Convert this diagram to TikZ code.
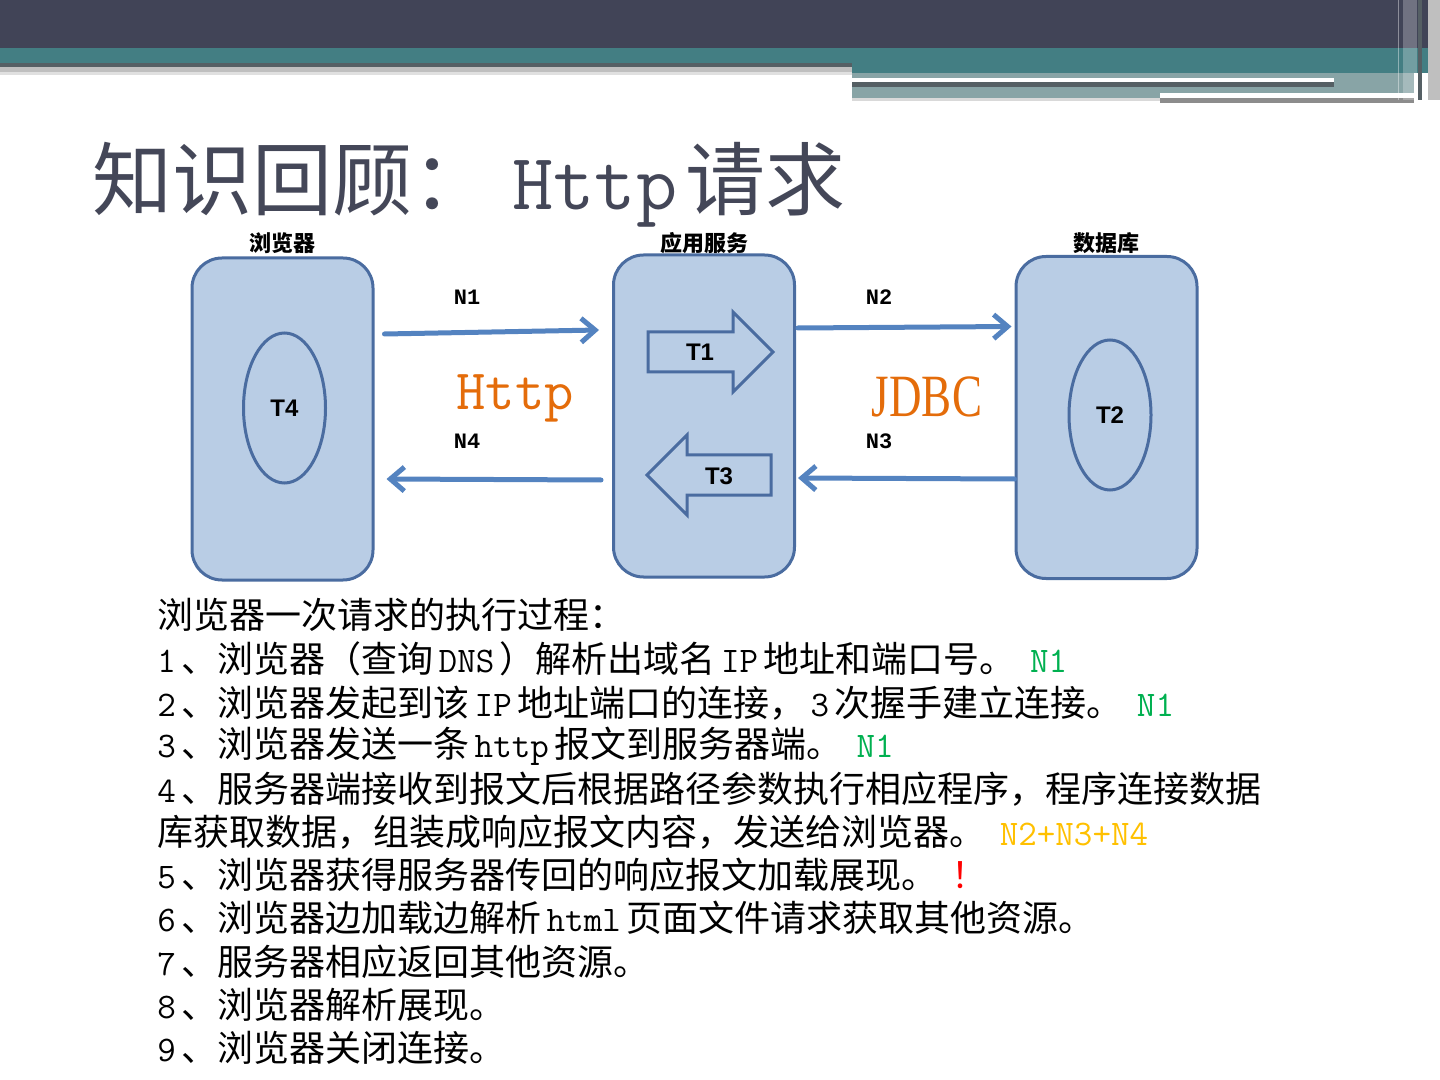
\documentclass[tikz,border=0pt]{standalone}
\usepackage{fontspec}
\setmainfont{Noto Sans CJK SC}
\newfontfamily\arialf{Liberation Sans}
\newfontfamily\timesf{Liberation Serif}
\newfontfamily\monof{Liberation Mono}
\usepackage{xcolor}
\usepackage{tikz}
\usetikzlibrary{positioning,shapes.geometric,arrows.meta}
\definecolor{bannerdark}{RGB}{65,68,87}
\definecolor{bannerteal}{RGB}{67,126,131}
\definecolor{bannergray}{RGB}{136,164,166}
\definecolor{bannerline}{RGB}{85,95,100}
\definecolor{titlegray}{RGB}{68,71,88}
\definecolor{boxfill}{RGB}{185,205,229}
\definecolor{boxline}{RGB}{74,108,160}
\definecolor{flowblue}{RGB}{84,131,192}
\definecolor{httporange}{RGB}{228,108,10}
\definecolor{stepgreen}{RGB}{0,176,80}
\definecolor{stepyellow}{RGB}{255,192,0}
\definecolor{stepred}{RGB}{255,0,0}

\newcommand{\enw}[1]{\hspace{0.15em}{\ttfamily #1}\hspace{0.15em}}
\newcommand{\stepno}[1]{{\ttfamily #1}\hspace{0.15em}、}

\begin{document}
\begin{tikzpicture}[x=0.5pt, y=-0.5pt,
    serverbox/.style={draw=boxline, fill=boxfill, line width=1.5pt, rounded corners=15pt,
        minimum width=90.5pt, minimum height=161pt},
    threadell/.style={ellipse, draw=boxline, line width=1.5pt, minimum width=41pt, minimum height=75pt,
        font=\arialf\bfseries\fontsize{12pt}{14pt}\selectfont},
    blockarrow/.style={draw=boxline, fill=boxfill, line width=1.5pt},
    boxlabel/.style={inner sep=0pt, font=\bfseries\fontsize{11pt}{13pt}\selectfont},
    flowlabel/.style={font=\monof\bfseries\fontsize{11pt}{13pt}\selectfont},
    flow/.style={line width=2.5pt, draw=flowblue, line cap=round, -{Straight Barb[length=7pt,width=12pt]}},
    bodyline/.style={anchor=west, inner sep=0pt, font=\fontsize{18pt}{22pt}\selectfont}
]
    \useasboundingbox (0,0) rectangle (1440,1080);

    % Banner
    \fill[bannerdark] (0,0) rectangle (1440,48);
    \fill[bannerteal] (0,48) rectangle (852,63);
    \fill[bannerline] (0,63) rectangle (852,67);
    \fill[black!25] (0,67) rectangle (852,72);
    \fill[black!12] (0,72) rectangle (852,75);
    \fill[bannerteal] (852,48) rectangle (1440,73);
    \fill[bannergray] (852,73) rectangle (1414,100);
    \fill[white] (852,78) rectangle (1334,82);
    \fill[bannerline] (852,82) rectangle (1334,87);
    \fill[white] (1160,93) rectangle (1414,98);
    \fill[black!45] (1160,98) rectangle (1414,103);
    \fill[black!15] (852,98) rectangle (1160,101);
    \fill[white, opacity=0.25] (1403,0) rectangle (1417,100);
    \fill[bannerline] (1418,0) rectangle (1422,100);
    \fill[black!25] (1428,0) rectangle (1440,100);
    \draw[white, opacity=0.4, line width=0.5pt] (1398,0) -- (1398,100);

    % Title
    \node[anchor=west, inner sep=0pt, text=titlegray, font=\fontsize{40pt}{48pt}\selectfont]
        (title) at (92,185) {知识回顾：\hspace{0.25em}{\ttfamily Http}\hspace{0.1em}请求};

    % Boxes
    \node[serverbox] (browser) at (282.5,419) {};
    \node[serverbox] (appsrv) at (704,416) {};
    \node[serverbox] (database) at (1106.5,417.5) {};
    \node[boxlabel, above=1pt of browser] (browserlbl) {浏览器};
    \node[boxlabel] (appsrvlbl) at (browserlbl -| appsrv) {应用服务};
    \node[boxlabel] (databaselbl) at (browserlbl -| database) {数据库};

    % Threads
    \node[threadell] (t4) at (284.5,408) {T4};
    \node[threadell] (t2) at (1110,415) {T2};
    \draw[blockarrow] (648,332) -- (733,332) -- (733,312) -- (773,352) -- (733,392) -- (733,372) -- (648,372) -- cycle;
    \node[font=\arialf\bfseries\fontsize{12pt}{14pt}\selectfont] (t1) at (700,352) {T1};
    \draw[blockarrow] (771,455) -- (687,455) -- (687,435) -- (647,475) -- (687,515) -- (687,495) -- (771,495) -- cycle;
    \node[font=\arialf\bfseries\fontsize{12pt}{14pt}\selectfont] (t3) at (719,476) {T3};

    % Connections
    \draw[flow] ([shift={(10,-85)}]browser.east) -- ([shift={(-13,-86)}]appsrv.west);
    \draw[flow] ([shift={(-11,64)}]appsrv.west) -- ([shift={(12,60)}]browser.east);
    \draw[flow] ([shift={(2,-88)}]appsrv.east) -- ([shift={(-3,-91)}]database.west);
    \draw[flow] ([shift={(0,61.5)}]database.west) -- ([shift={(2,62)}]appsrv.east);
    \node[flowlabel] (n1) at (467,297) {N1};
    \node[flowlabel] (n4) at (467,441) {N4};
    \node[flowlabel] (n2) at (879,297) {N2};
    \node[flowlabel] (n3) at (879,441) {N3};

    % Protocols
    \node[text=httporange, font=\ttfamily\fontsize{28.5pt}{30pt}\selectfont] (http) at (515,398) {Http};
    \node[text=httporange, xscale=0.75, font=\timesf\fontsize{30pt}{32pt}\selectfont] (jdbc) at (927,397) {JDBC};

    % Steps
    \node[bodyline] (s0) at (157,615) {浏览器一次请求的执行过程：};
    \node[bodyline] (s1) at (157,659) {\stepno{1}浏览器（查询\enw{DNS}）解析出域名\enw{IP}地址和端口号。\hspace{0.4em}{\ttfamily\color{stepgreen}N1}};
    \node[bodyline] (s2) at (157,703) {\stepno{2}浏览器发起到该\enw{IP}地址端口的连接，\enw{3}次握手建立连接。\hspace{0.4em}{\ttfamily\color{stepgreen}N1}};
    \node[bodyline] (s3) at (157,746) {\stepno{3}浏览器发送一条\enw{http}报文到服务器端。\hspace{0.4em}{\ttfamily\color{stepgreen}N1}};
    \node[bodyline] (s4) at (157,789) {\stepno{4}服务器端接收到报文后根据路径参数执行相应程序，程序连接数据};
    \node[bodyline] (s4b) at (157,832) {库获取数据，组装成响应报文内容，发送给浏览器。\hspace{0.4em}{\ttfamily\color{stepyellow}N2+N3+N4}};
    \node[bodyline] (s5) at (157,875) {\stepno{5}浏览器获得服务器传回的响应报文加载展现。\hspace{0.4em}{\color{stepred}！}};
    \node[bodyline] (s6) at (157,918) {\stepno{6}浏览器边加载边解析\enw{html}页面文件请求获取其他资源。};
    \node[bodyline] (s7) at (157,962) {\stepno{7}服务器相应返回其他资源。};
    \node[bodyline] (s8) at (157,1005) {\stepno{8}浏览器解析展现。};
    \node[bodyline] (s9) at (157,1048) {\stepno{9}浏览器关闭连接。};
\end{tikzpicture}
\end{document}
